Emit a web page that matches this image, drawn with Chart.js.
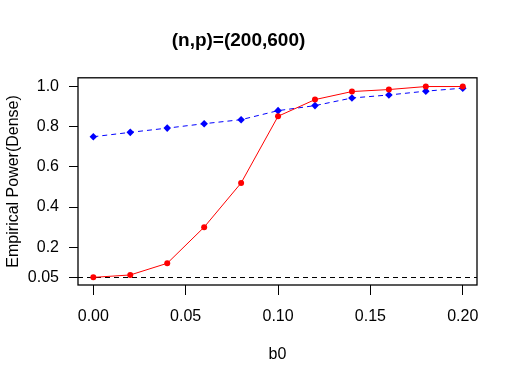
<!DOCTYPE html>
<html>
<head>
<meta charset="utf-8">
<script src="https://cdn.jsdelivr.net/npm/chart.js@4.4.0/dist/chart.umd.min.js"></script>
<style>
  html, body { margin: 0; padding: 0; background: #fff; }
  canvas { display: block; }
</style>
</head>
<body>
<canvas id="power" width="518" height="383"></canvas>
<script>
// b0 values and empirical power
var b0 = [0.00, 0.02, 0.04, 0.06, 0.08, 0.10, 0.12, 0.14, 0.16, 0.18, 0.20];
var redPower = [0.05, 0.062, 0.12, 0.30, 0.52, 0.852, 0.935, 0.975, 0.985, 1.0, 1.0];
var bluePower = [0.75, 0.772, 0.793, 0.815, 0.835, 0.88, 0.905, 0.943, 0.958, 0.977, 0.992];
var xTicks = [0.00, 0.05, 0.10, 0.15, 0.20];
var yTicks = [0.05, 0.2, 0.4, 0.6, 0.8, 1.0];
var refLine = 0.05;

function pts(xs, ys) {
    return xs.map(function (x, i) { return {x: x, y: ys[i]}; });
}

var fontName = "'Liberation Sans', Arial, sans-serif";

// box around the plot + the horizontal reference line
var boxPlugin = {
    id: 'box',
    beforeDatasetsDraw: function (chart) {
        var c = chart.ctx, a = chart.chartArea;
        var y = chart.scales.y.getPixelForValue(refLine);
        c.save();
        c.strokeStyle = '#000';
        c.lineWidth = 1;
        c.setLineDash([5, 4]);
        c.beginPath();
        c.moveTo(a.left, Math.round(y) + 0.5);
        c.lineTo(a.right, Math.round(y) + 0.5);
        c.stroke();
        c.restore();
    },
    afterDraw: function (chart) {
        var c = chart.ctx, a = chart.chartArea;
        c.save();
        c.strokeStyle = '#000';
        c.lineWidth = 1.3;
        c.strokeRect(a.left, a.top, a.right - a.left, a.bottom - a.top);
        c.restore();
    }
};

var ctx = document.getElementById('power').getContext('2d');
var chart = new Chart(ctx, {
    type: 'line',
    data: {
        datasets: [{
            label: 'red',
            data: pts(b0, redPower),
            borderColor: '#ff0000',
            backgroundColor: '#ff0000',
            borderWidth: 1,
            pointStyle: 'circle',
            pointRadius: 3,
            pointBorderWidth: 0,
            tension: 0
        }, {
            label: 'blue',
            data: pts(b0, bluePower),
            borderColor: '#0000ff',
            backgroundColor: '#0000ff',
            borderWidth: 1,
            borderDash: [5, 4],
            pointStyle: 'rectRot',
            pointRadius: 3.8,
            pointBorderWidth: 0,
            tension: 0
        }]
    },
    options: {
        responsive: false,
        animation: false,
        layout: { padding: { left: 0, right: 41, top: 0, bottom: 0 } },
        plugins: {
            legend: { display: false },
            tooltip: { enabled: false },
            title: {
                display: true,
                text: '(n,p)=(200,600)',
                color: '#000',
                font: { family: fontName, size: 19, weight: 'bold' },
                padding: { top: 29, bottom: 26 }
            }
        },
        scales: {
            x: {
                type: 'linear',
                min: -0.0083,
                max: 0.2077,
                afterBuildTicks: function (s) { s.ticks = xTicks.map(function (v) { return {value: v}; }); },
                afterFit: function (s) { s.height = 98; },
                ticks: {
                    color: '#000',
                    font: { family: fontName, size: 16 },
                    padding: 12,
                    maxRotation: 0,
                    callback: function (v) { return v.toFixed(2); }
                },
                grid: { display: true, drawOnChartArea: false, drawTicks: true, tickLength: 10, color: '#000' },
                border: { display: false },
                title: {
                    display: true,
                    text: 'b0',
                    color: '#000',
                    font: { family: fontName, size: 16 },
                    padding: { top: 0, bottom: 19 }
                }
            },
            y: {
                type: 'linear',
                min: 0.012,
                max: 1.0435,
                afterBuildTicks: function (s) { s.ticks = yTicks.map(function (v) { return {value: v}; }); },
                afterFit: function (s) { s.width = 78; },
                ticks: {
                    color: '#000',
                    font: { family: fontName, size: 16 },
                    padding: 10,
                    callback: function (v) { return v === 0.05 ? '0.05' : v.toFixed(1); }
                },
                grid: { display: true, drawOnChartArea: false, drawTicks: true, tickLength: 9, color: '#000' },
                border: { display: false },
                title: {
                    display: true,
                    text: 'Empirical Power(Dense)',
                    color: '#000',
                    font: { family: fontName, size: 16 },
                    padding: { top: 4, bottom: 0 }
                }
            }
        }
    },
    plugins: [boxPlugin]
});
</script>
</body>
</html>
